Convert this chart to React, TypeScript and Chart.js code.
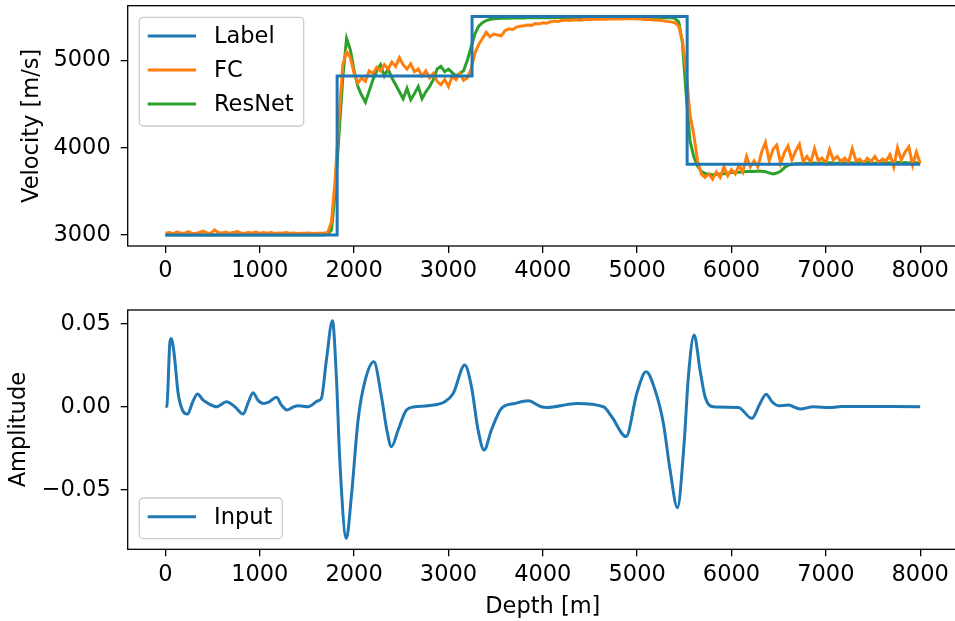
import React, { useEffect, useRef } from "react";
import { Chart, registerables } from "chart.js";

Chart.register(...registerables);

// ---------- data ----------
const DEPTH_STEP = 40; // m, sampling of the predicted curves (0 .. 8000)

const fcValues = [
  3020, 3030, 3015, 3035, 3025, 3020, 3040, 3022, 3018, 3030,
  3045, 3025, 3020, 3060, 3030, 3025, 3035, 3020, 3030, 3040,
  3025, 3020, 3030, 3025, 3035, 3020, 3028, 3022, 3030, 3018,
  3025, 3020, 3030, 3022, 3025, 3018, 3022, 3020, 3025, 3018,
  3020, 3022, 3025, 3030, 3150, 3650, 4350, 4950, 5100, 5030,
  4850, 4740, 4800, 4760, 4880, 4850, 4920, 4880, 4950, 4900,
  4980, 4930, 5030, 4950, 4900, 4960, 4870, 4900, 4820, 4880,
  4800, 4850, 4760, 4720, 4780, 4700, 4820, 4780, 4850, 4770,
  4800, 4900, 5080, 5180, 5250, 5320, 5270, 5300, 5290, 5280,
  5340, 5360, 5350, 5380, 5390, 5395, 5405, 5400, 5420, 5415,
  5430, 5425, 5440, 5450, 5445, 5455, 5460, 5455, 5462, 5465,
  5460, 5468, 5470, 5468, 5472, 5470, 5474, 5471, 5475, 5472,
  5476, 5474, 5478, 5475, 5477, 5474, 5472, 5468, 5470, 5465,
  5462, 5458, 5452, 5445, 5440, 5430, 5390, 5230, 4870, 4380,
  4150, 3850, 3700, 3660, 3700, 3640, 3720, 3660, 3780, 3680,
  3750, 3700, 3800, 3720, 3900, 3780, 3850, 3780, 3950, 4060,
  3850, 3980, 4030, 3820, 3940, 4020, 3860, 3960, 4040, 3840,
  3900, 3830, 3990, 3850, 3880, 3820, 3980, 3860, 3900, 3840,
  3880, 3830, 3990, 3850, 3870, 3820, 3880, 3840, 3900, 3830,
  3870, 3850, 3920, 3780, 4000, 3860, 3950, 4010, 3800, 3950,
  3820,
];

const resnetValues = [
  3000, 3000, 3000, 3000, 3000, 3000, 3000, 3000, 3000, 3000,
  3000, 3000, 3000, 3000, 3000, 3000, 3000, 3000, 3000, 3000,
  3000, 3000, 3000, 3000, 3000, 3000, 3000, 3000, 3000, 3000,
  3000, 3000, 3000, 3000, 3000, 3000, 3000, 3000, 3000, 3000,
  3000, 3000, 3002, 3010, 3060, 3500, 4150, 4800, 5250, 5120,
  4880, 4700, 4600, 4520, 4650, 4780, 4880, 4950, 4820, 4900,
  4800, 4720, 4640, 4560, 4680, 4550, 4620, 4700, 4560, 4640,
  4700, 4780, 4900, 4930, 4870, 4900, 4860, 4820, 4850, 4880,
  5000, 5150, 5300, 5390, 5430, 5455, 5468, 5475, 5478, 5480,
  5480, 5482, 5483, 5484, 5485, 5485, 5486, 5486, 5487, 5487,
  5488, 5488, 5488, 5489, 5489, 5489, 5490, 5490, 5490, 5490,
  5490, 5490, 5490, 5490, 5490, 5490, 5490, 5490, 5490, 5490,
  5490, 5490, 5490, 5490, 5490, 5490, 5490, 5490, 5490, 5490,
  5490, 5490, 5489, 5488, 5486, 5480, 5440, 5200, 4600, 4080,
  3900, 3790, 3730, 3705, 3695, 3690, 3692, 3698, 3702, 3708,
  3715, 3720, 3718, 3725, 3728, 3730, 3728, 3732, 3730, 3725,
  3712, 3700, 3710, 3730, 3770, 3800, 3810, 3815, 3820, 3818,
  3822, 3818, 3825, 3820, 3826, 3822, 3828, 3824, 3822, 3828,
  3824, 3830, 3826, 3822, 3828, 3825, 3830, 3826, 3823, 3828,
  3826, 3830, 3824, 3828, 3832, 3826, 3830, 3824, 3834, 3828,
  3826,
];

const labelDepths = [0, 1820, 1820, 3250, 3250, 5530, 5530, 8000];
const labelValues = [3000, 3000, 4820, 4820, 5500, 5500, 3810, 3810];

const inputDepths = [
  0, 15, 46, 60, 90, 135, 180, 233, 290, 339, 400, 452, 541, 647, 735, 824,
  880, 929, 980, 1036, 1100, 1177, 1230, 1289, 1350, 1406, 1512, 1618, 1653,
  1706, 1770, 1812, 1848, 1918, 1971, 2042, 2113, 2209, 2290, 2350, 2396,
  2467, 2555, 2644, 2784, 2961, 3050, 3173, 3244, 3314, 3378, 3455, 3561,
  3703, 3844, 3985, 4042, 4360, 4642, 4731, 4883, 4996, 5095, 5190, 5278,
  5349, 5427, 5498, 5543, 5604, 5667, 5720, 5808, 6073, 6215, 6303, 6367,
  6430, 6497, 6603, 6727, 6868, 7045, 7169, 8000,
];
const inputValues = [
  0, 0.0005, 0.038, 0.0412, 0.033, 0.008, -0.002, -0.0044, 0.003, 0.0077,
  0.004, 0.002, 0.0, 0.003, 0.0, -0.0044, 0.003, 0.0084, 0.004, 0.002,
  0.003, 0.0057, 0.001, -0.002, -0.0003, 0.0006, 0.0, 0.0036, 0.005,
  0.028, 0.0518, 0.018, -0.032, -0.0793, -0.054, -0.008, 0.015, 0.0271,
  0.006, -0.015, -0.0241, -0.014, -0.002, 0.0, 0.0006, 0.003, 0.008,
  0.0251, 0.012, -0.014, -0.0261, -0.014, -0.001, 0.002, 0.0036, 0.0,
  -0.0004, 0.002, 0.0, -0.006, -0.018, 0.008, 0.0211, 0.01, -0.01,
  -0.038, -0.0608, -0.022, 0.018, 0.0432, 0.022, 0.006, 0.0, -0.0004,
  -0.007, 0.002, 0.0076, 0.003, 0.0006, 0.001, -0.0014, 0.0, -0.0005,
  0.0002, 0.0,
];

const depthTicks = [0, 1000, 2000, 3000, 4000, 5000, 6000, 7000, 8000];
const velocityTicks = [3000, 4000, 5000];
const amplitudeTicks = [-0.05, 0, 0.05];
const amplitudeTickLabels = ["\u22120.05", "0.00", "0.05"];

// ---------- styling ----------
const FONT_FAMILY = '"DejaVu Sans", sans-serif';
const FONT_SIZE = 22.5;
const BLUE = "#1f77b4";
const ORANGE = "#ff7f0e";
const GREEN = "#2ca02c";
const LINE_W = 3;
const CANVAS_W = 965;

const grid = (n: number) => Array.from({ length: n }, (_, i) => i * DEPTH_STEP);

const framePlugin = {
  id: "frame",
  afterDatasetsDraw(chart: any) {
    const { ctx, chartArea: a } = chart;
    ctx.save();
    ctx.strokeStyle = "#000";
    ctx.lineWidth = 1.3;
    ctx.strokeRect(a.left, a.top, a.right - a.left, a.bottom - a.top);
    ctx.restore();
  },
};

const mplLegend = {
  id: "mplLegend",
  afterDraw(chart: any, _args: any, opts: any) {
    if (!opts || !opts.show) return;
    const { ctx, chartArea: a } = chart;
    const items = chart.data.datasets.map((d: any) => ({ label: d.label, color: d.borderColor }));
    ctx.save();
    ctx.font = `${FONT_SIZE}px ${FONT_FAMILY}`;
    const padX = 8.4, lineLen = 48.3, gap = 18, padR = 10, rowH = 34;
    const maxW = Math.max(...items.map((i: any) => ctx.measureText(i.label).width));
    const w = padX + lineLen + gap + maxW + padR;
    const h = (items.length - 1) * rowH + 40.7;
    const x = a.left + 11.6;
    const y = opts.corner === "lower left" ? a.bottom - 10.6 - h : a.top + 11.6;
    ctx.beginPath();
    (ctx as any).roundRect(x, y, w, h, 4);
    ctx.fillStyle = "rgba(255,255,255,0.8)";
    ctx.fill();
    ctx.strokeStyle = "#cccccc";
    ctx.lineWidth = 1.3;
    ctx.stroke();
    items.forEach((it: any, i: number) => {
      const cy = y + 18.7 + i * rowH;
      ctx.beginPath();
      ctx.moveTo(x + padX, cy);
      ctx.lineTo(x + padX + lineLen, cy);
      ctx.strokeStyle = it.color;
      ctx.lineWidth = LINE_W;
      ctx.stroke();
      ctx.fillStyle = "#000";
      ctx.textBaseline = "middle";
      ctx.textAlign = "left";
      ctx.fillText(it.label, x + padX + lineLen + gap, cy + 1);
    });
    ctx.restore();
  },
};

const tickFont = { family: FONT_FAMILY, size: FONT_SIZE };

function xScale(height: number, title?: string, titlePad?: number) {
  return {
    type: "linear",
    min: -400,
    max: 8400,
    afterBuildTicks: (s: any) => {
      s.ticks = depthTicks.map((v) => ({ value: v }));
    },
    afterFit: (s: any) => {
      s.height = height;
      s.paddingLeft = 0;
      s.paddingRight = 0;
    },
    ticks: {
      font: tickFont,
      color: "#000",
      padding: 5,
      maxRotation: 0,
      autoSkip: false,
      callback: (v: any) => String(v),
    },
    grid: { drawOnChartArea: false, tickLength: 7, color: "#000", lineWidth: 1.3 },
    border: { display: false },
    title: title
      ? { display: true, text: title, font: tickFont, color: "#000", padding: { top: 0, bottom: titlePad } }
      : { display: false },
  };
}

function yScale(min: number, max: number, ticks: number[], labels: string[], title: string, titlePad: number) {
  return {
    type: "linear",
    min,
    max,
    afterBuildTicks: (s: any) => {
      s.ticks = ticks.map((v) => ({ value: v }));
    },
    afterFit: (s: any) => {
      s.width = 127.7;
      s.paddingTop = 0;
      s.paddingBottom = 0;
    },
    ticks: {
      font: tickFont,
      color: "#000",
      padding: 10,
      autoSkip: false,
      callback: (v: any) => {
        const i = ticks.findIndex((t) => Math.abs(t - v) < 1e-9);
        return i >= 0 ? labels[i] : "";
      },
    },
    grid: { drawOnChartArea: false, tickLength: 7, color: "#000", lineWidth: 1.3 },
    border: { display: false },
    title: { display: true, text: title, font: tickFont, color: "#000", padding: { top: titlePad, bottom: 0 } },
  };
}

export default function App() {
  const topRef = useRef<HTMLCanvasElement | null>(null);
  const botRef = useRef<HTMLCanvasElement | null>(null);

  useEffect(() => {
    Chart.defaults.font.family = FONT_FAMILY;
    const toXY = (xs: number[], ys: number[]) => xs.map((x, i) => ({ x, y: ys[i] }));

    const top = new Chart(topRef.current as HTMLCanvasElement, {
      type: "line",
      data: {
        datasets: [
          { label: "Label", data: toXY(labelDepths, labelValues), borderColor: BLUE },
          { label: "FC", data: toXY(grid(fcValues.length), fcValues), borderColor: ORANGE },
          { label: "ResNet", data: toXY(grid(resnetValues.length), resnetValues), borderColor: GREEN },
        ].map((d) => ({ ...d, borderWidth: LINE_W, pointRadius: 0, fill: false, tension: 0 })),
      },
      options: {
        responsive: false,
        animation: false,
        devicePixelRatio: 1,
        layout: { padding: { left: 0, top: 5.7, right: 7.1, bottom: 0 } },
        plugins: {
          legend: { display: false },
          tooltip: { enabled: false },
          mplLegend: { show: true, corner: "upper left" },
        } as any,
        scales: {
          x: xScale(54) as any,
          y: yScale(2875, 5625, velocityTicks, velocityTicks.map(String), "Velocity [m/s]", 18.5) as any,
        },
      },
      plugins: [framePlugin, mplLegend],
    });

    const bot = new Chart(botRef.current as HTMLCanvasElement, {
      type: "line",
      data: {
        datasets: [
          {
            label: "Input",
            data: toXY(inputDepths, inputValues),
            borderColor: BLUE,
            borderWidth: LINE_W,
            pointRadius: 0,
            fill: false,
            cubicInterpolationMode: "monotone",
          },
        ],
      },
      options: {
        responsive: false,
        animation: false,
        devicePixelRatio: 1,
        layout: { padding: { left: 0, top: 10, right: 7.1, bottom: 0 } },
        plugins: {
          legend: { display: false },
          tooltip: { enabled: false },
          mplLegend: { show: true, corner: "lower left" },
        } as any,
        scales: {
          x: xScale(71.7, "Depth [m]", 0) as any,
          y: yScale(-0.0859, 0.0583, amplitudeTicks, amplitudeTickLabels, "Amplitude", 5.3) as any,
        },
      },
      plugins: [framePlugin, mplLegend],
    });

    return () => {
      top.destroy();
      bot.destroy();
    };
  }, []);

  return (
    <div
      style={{
        position: "fixed",
        left: 0,
        top: 0,
        width: 955,
        height: 621,
        overflow: "hidden",
        background: "#fff",
      }}
    >
      <canvas
        ref={topRef}
        width={CANVAS_W}
        height={300}
        style={{ position: "absolute", left: 0, top: 0, width: CANVAS_W, height: 300 }}
      />
      <canvas
        ref={botRef}
        width={CANVAS_W}
        height={321}
        style={{ position: "absolute", left: 0, top: 300, width: CANVAS_W, height: 321 }}
      />
    </div>
  );
}
